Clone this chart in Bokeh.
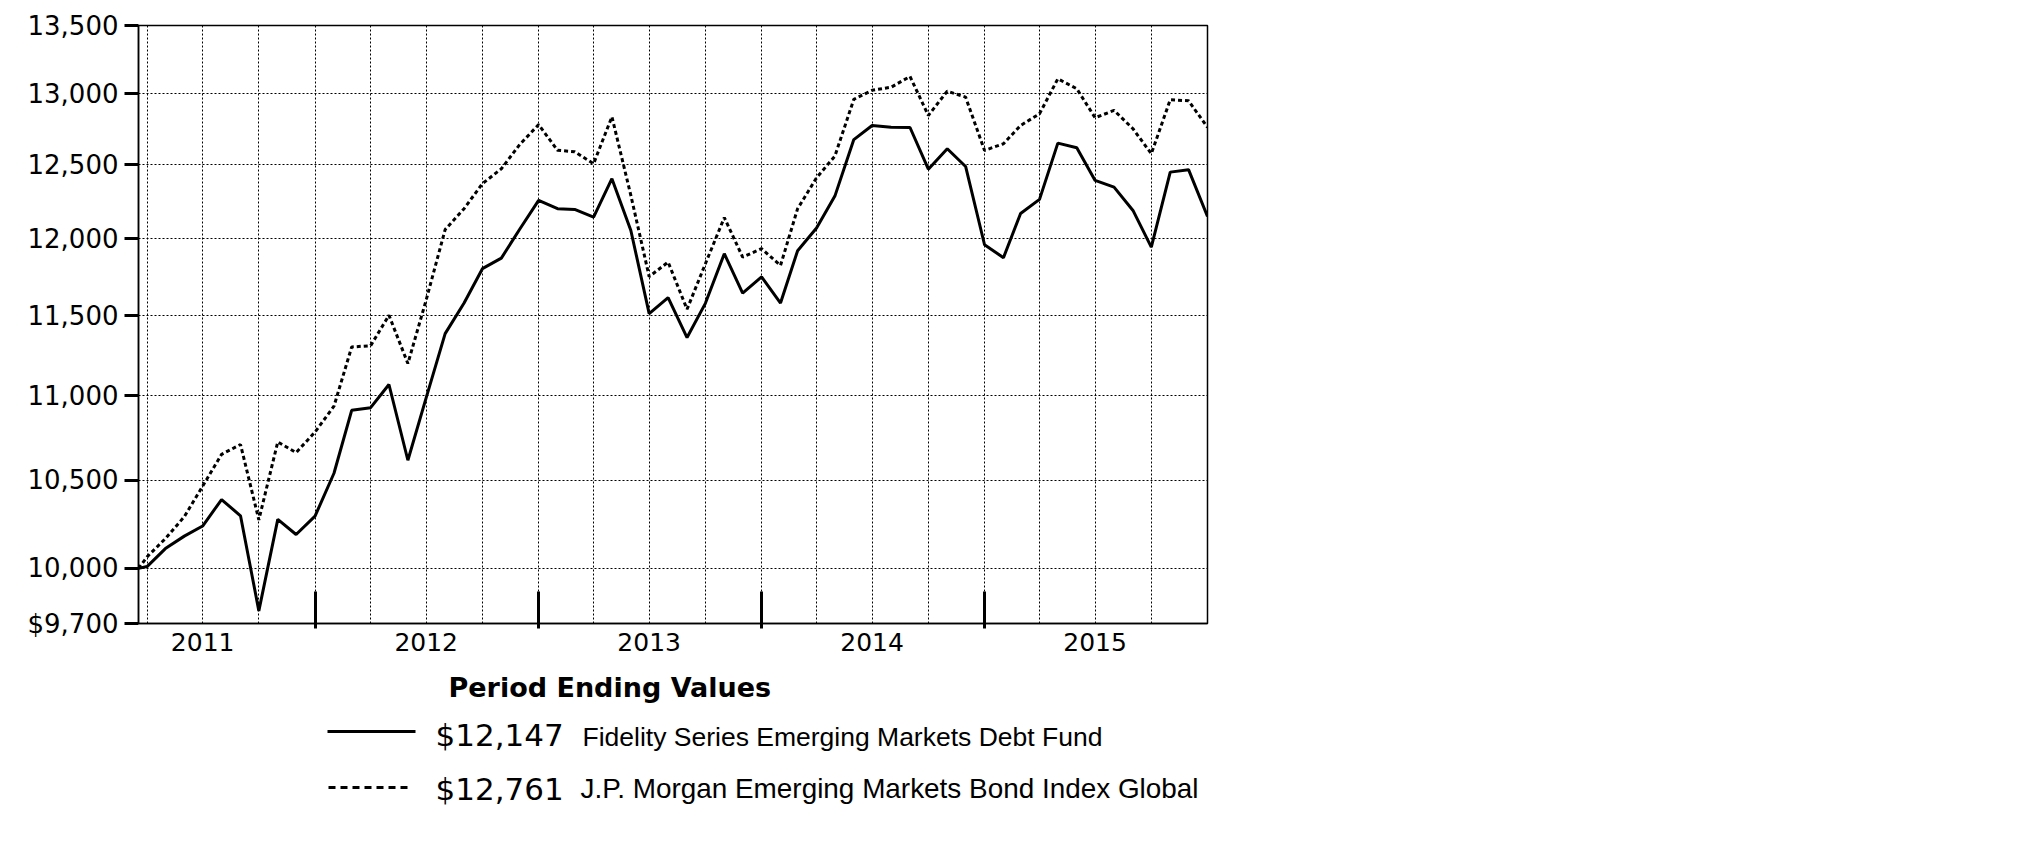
import pandas as pd
from bokeh.plotting import figure
from bokeh.models import (Range1d, FixedTicker, DatetimeTickFormatter,
                          NumeralTickFormatter, ColumnDataSource)
from bokeh.layouts import column
from bokeh.embed import file_html
from bokeh.resources import INLINE
from bokeh.core.properties import value

# ---------------- data ----------------
dates = [
    "2011-03-17", "2011-03-31", "2011-04-30", "2011-05-31", "2011-06-30", "2011-07-31",
    "2011-08-31", "2011-09-30", "2011-10-31", "2011-11-30", "2011-12-31",
    "2012-01-31", "2012-02-29", "2012-03-31", "2012-04-30", "2012-05-31", "2012-06-30",
    "2012-07-31", "2012-08-31", "2012-09-30", "2012-10-31", "2012-11-30", "2012-12-31",
    "2013-01-31", "2013-02-28", "2013-03-31", "2013-04-30", "2013-05-31", "2013-06-30",
    "2013-07-31", "2013-08-31", "2013-09-30", "2013-10-31", "2013-11-30", "2013-12-31",
    "2014-01-31", "2014-02-28", "2014-03-31", "2014-04-30", "2014-05-31", "2014-06-30",
    "2014-07-31", "2014-08-31", "2014-09-30", "2014-10-31", "2014-11-30", "2014-12-31",
    "2015-01-31", "2015-02-28", "2015-03-31", "2015-04-30", "2015-05-31", "2015-06-30",
    "2015-07-31", "2015-08-31", "2015-09-30", "2015-10-31", "2015-11-30", "2015-12-31",
]

fund_values = [
    10000,
    10010, 10110, 10180, 10237, 10388, 10295, 9768, 10275, 10189, 10293,
    10540, 10913, 10929, 11070, 10616, 10990, 11386, 11580, 11802, 11871, 12062, 12256,
    12200, 12195, 12143, 12404, 12054, 11512, 11615, 11361, 11578, 11900, 11644, 11748,
    11580, 11920, 12070, 12285, 12675, 12774, 12762, 12760, 12469, 12611, 12488, 11959,
    11874, 12167, 12263, 12650, 12618, 12392, 12346, 12188, 11943, 12449, 12466, 12147,
]

index_values = [
    10000,
    10064, 10166, 10290, 10465, 10651, 10709, 10272, 10724, 10661, 10783,
    10938, 11302, 11310, 11502, 11199, 11600, 12060, 12200, 12370, 12472, 12640, 12780,
    12600, 12590, 12507, 12836, 12290, 11750, 11845, 11540, 11834, 12140, 11878, 11933,
    11823, 12200, 12410, 12560, 12960, 13025, 13047, 13125, 12845, 13019, 12976, 12599,
    12646, 12774, 12857, 13108, 13036, 12829, 12881, 12751, 12576, 12957, 12950, 12761,
]

fund_name = "Fidelity Series Emerging Markets Debt Fund"
index_name = "J.P. Morgan Emerging Markets Bond Index Global"
fund_end_label = "$12,147"
index_end_label = "$12,761"
legend_title = "Period Ending Values"

y_ticks = [9700, 10000, 10500, 11000, 11500, 12000, 12500, 13000, 13500]
y_tick_overrides = {9700: "$9,700"}
years = [2011, 2012, 2013, 2014, 2015]


def ms(d):
    return (pd.Timestamp(d) - pd.Timestamp("1970-01-01")).total_seconds() * 1000.0


x_start = ms(dates[0])
x_end = ms(dates[-1])

label_ticks = [ms(f"{y}-06-30") for y in years]
mark_ticks = [ms(f"{y}-12-31") for y in years[:-1]]
quarter_ticks = []
for y in years:
    for md in ["03-31", "06-30", "09-30", "12-31"]:
        t = ms(f"{y}-{md}")
        if x_start < t < x_end:
            quarter_ticks.append(t)

src = ColumnDataSource(dict(x=pd.to_datetime(dates), fund=fund_values, index=index_values))

# layout geometry (page pixels)
FL, FR, FT, FB = 138, 1207, 25, 623
W = FR + 8
H1 = FB + 50
H2 = 170

# ---------------- chart ----------------
p = figure(width=W, height=H1, x_axis_type="datetime", y_axis_type="log",
           x_range=Range1d(x_start, x_end), y_range=Range1d(9700, 13500),
           output_backend="svg", toolbar_location=None,
           min_border_left=FL, min_border_right=W - FR, min_border_top=FT,
           min_border_bottom=H1 - FB)

p.background_fill_color = "white"
p.border_fill_color = "white"
p.outline_line_color = "black"
p.outline_line_width = 1.5

p.line("x", "fund", source=src, line_color="black", line_width=3)
p.line("x", "index", source=src, line_color="black", line_width=3, line_dash="4 3")

# y axis
p.yaxis.ticker = FixedTicker(ticks=y_ticks, minor_ticks=[])
p.yaxis.formatter = NumeralTickFormatter(format="0,0")
p.yaxis.major_label_overrides = y_tick_overrides
p.yaxis.major_label_text_font = "DejaVu Sans"
p.yaxis.major_label_text_font_size = "26px"
p.yaxis.major_label_text_color = "black"
p.yaxis.major_tick_out = 14
p.yaxis.major_tick_in = 0
p.yaxis.major_tick_line_width = 3
p.yaxis.major_tick_line_color = "black"
p.yaxis.major_label_standoff = 6
p.yaxis.axis_line_width = 1.5
p.yaxis.axis_line_color = "black"
p.yaxis.minor_tick_line_color = None

# x axis
p.xaxis.ticker = FixedTicker(ticks=label_ticks, minor_ticks=mark_ticks)
fmt = "%Y"
p.xaxis.formatter = DatetimeTickFormatter(
    microseconds=fmt, milliseconds=fmt, seconds=fmt, minsec=fmt, minutes=fmt,
    hourmin=fmt, hours=fmt, days=fmt, months=fmt, years=fmt)
p.xaxis.major_tick_line_color = None
p.xaxis.major_tick_in = 0
p.xaxis.major_tick_out = 0
p.xaxis.minor_tick_in = 32
p.xaxis.minor_tick_out = 5
p.xaxis.minor_tick_line_width = 3
p.xaxis.minor_tick_line_color = "black"
p.xaxis.major_label_text_font = "DejaVu Sans"
p.xaxis.major_label_text_font_size = "25px"
p.xaxis.major_label_text_color = "black"
p.xaxis.major_label_standoff = 4
p.xaxis.axis_line_width = 1.5
p.xaxis.axis_line_color = "black"

# grids
p.xgrid.ticker = FixedTicker(ticks=quarter_ticks)
for g in (p.xgrid, p.ygrid):
    g.grid_line_color = "black"
    g.grid_line_width = 1
    g.grid_line_dash = "2 2"

# ---------------- legend (data units = page pixels) ----------------
q = figure(width=W, height=H2, x_range=Range1d(FL, FR), y_range=Range1d(H1 + H2, H1),
           output_backend="svg", toolbar_location=None,
           min_border_left=FL, min_border_right=W - FR, min_border_top=0, min_border_bottom=0,
           x_axis_location=None, y_axis_location=None)
q.outline_line_color = None
q.grid.visible = False
q.background_fill_color = "white"
q.border_fill_color = "white"

q.text(x=[448], y=[687], text=[legend_title], text_font=value("DejaVu Sans"),
       text_font_style="bold", text_font_size="27px", text_color="black",
       text_baseline="alphabetic", text_align="left")

q.line(x=[327, 415], y=[731, 731], line_color="black", line_width=3)
q.line(x=[328, 408], y=[787, 787], line_color="black", line_width=3, line_dash="7 5")

q.text(x=[435, 435], y=[734, 788], text=[fund_end_label, index_end_label],
       text_font=value("DejaVu Sans"), text_font_size="31px", text_color="black",
       text_baseline="alphabetic", text_align="left")
q.text(x=[582], y=[736], text=[fund_name],
       text_font=value("Liberation Sans"), text_font_size="26.5px", text_color="black",
       text_baseline="alphabetic", text_align="left")
q.text(x=[580], y=[788], text=[index_name],
       text_font=value("Liberation Sans"), text_font_size="27.9px", text_color="black",
       text_baseline="alphabetic", text_align="left")

layout = column(p, q, spacing=0)
open("out.html", "w").write(file_html(layout, INLINE))
